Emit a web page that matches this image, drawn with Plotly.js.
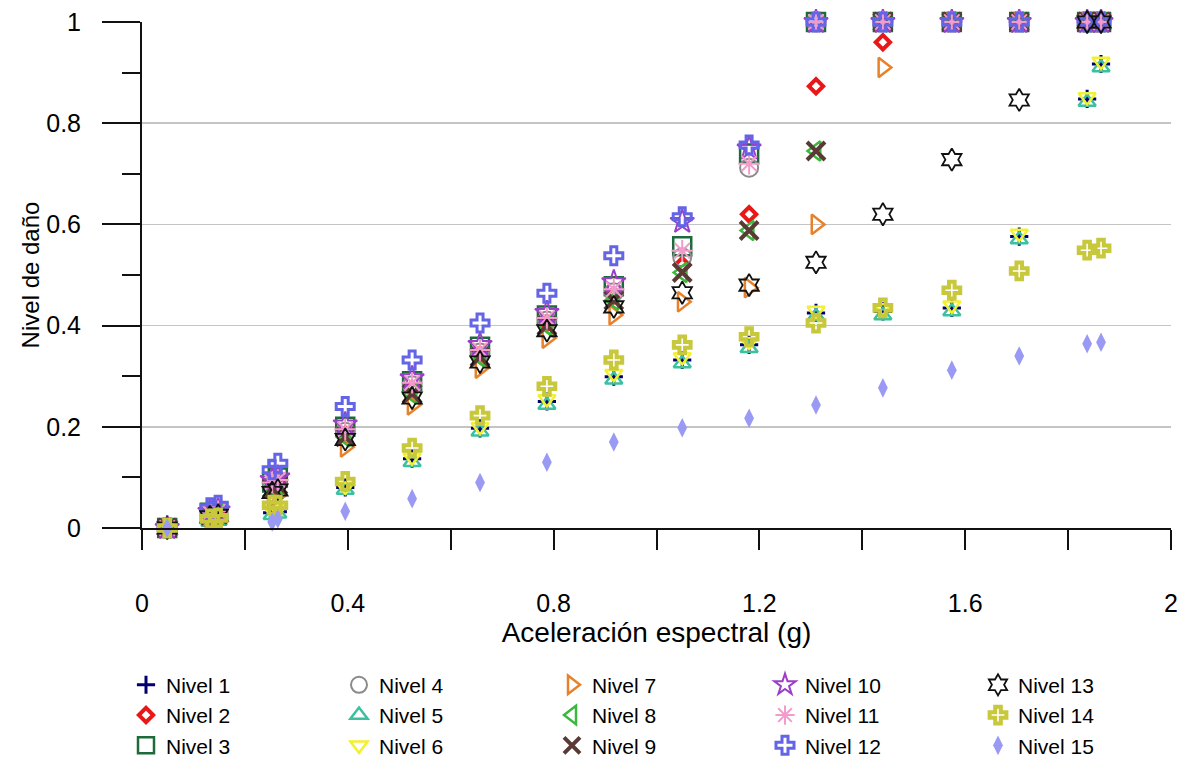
<!DOCTYPE html>
<html>
<head>
<meta charset="utf-8">
<script src="https://cdn.plot.ly/plotly-3.0.1.min.js"></script>
<style>html,body{margin:0;padding:0;background:#fff;}#chart{width:1191px;height:778px;}</style>
</head>
<body>
<div id="chart"></div>
<script>
// Aceleración espectral (g)
const accel = [0.049, 0.132, 0.148, 0.253, 0.264, 0.395, 0.525, 0.657, 0.787, 0.917, 1.05, 1.18, 1.31, 1.44, 1.574, 1.705, 1.837, 1.864];

// Nivel de daño per level
const nivel1  = [0, 0.015, 0.018, 0.030, 0.032, 0.080, 0.137, 0.197, 0.250, 0.299, 0.332, 0.362, 0.425, 0.428, 0.435, 0.576, 0.848, 0.917];
const nivel2  = [0, 0.027, 0.030, 0.080, 0.088, 0.185, 0.275, 0.342, 0.405, 0.460, 0.520, 0.620, 0.873, 0.960, 1, 1, 1, 1];
const nivel3  = [0, 0.030, 0.033, 0.090, 0.100, 0.200, 0.290, 0.358, 0.420, 0.478, 0.557, 0.740, 1, 1, 1, 1, 1, 1];
const nivel4  = [0, 0.028, 0.030, 0.085, 0.090, 0.190, 0.282, 0.347, 0.410, 0.466, 0.535, 0.712, 1, 1, 1, 1, 1, 1];
const nivel5  = [0, 0.012, 0.014, 0.025, 0.028, 0.075, 0.130, 0.190, 0.243, 0.293, 0.325, 0.355, 0.418, 0.420, 0.428, 0.570, 0.842, 0.910];
const nivel6  = [0, 0.015, 0.017, 0.035, 0.038, 0.082, 0.140, 0.200, 0.255, 0.305, 0.338, 0.368, 0.430, 0.435, 0.440, 0.582, 0.852, 0.922];
const nivel7  = [0, 0.020, 0.022, 0.060, 0.065, 0.160, 0.243, 0.316, 0.375, 0.421, 0.447, 0.475, 0.600, 0.910, 1, 1, 1, 1];
const nivel8  = [0, 0.025, 0.027, 0.078, 0.085, 0.180, 0.265, 0.338, 0.400, 0.450, 0.505, 0.588, 0.745, 1, 1, 1, 1, 1];
const nivel9  = [0, 0.025, 0.027, 0.078, 0.085, 0.180, 0.265, 0.338, 0.400, 0.450, 0.505, 0.588, 0.745, 1, 1, 1, 1, 1];
const nivel10 = [0, 0.032, 0.035, 0.095, 0.100, 0.205, 0.296, 0.362, 0.425, 0.486, 0.605, 0.750, 1, 1, 1, 1, 1, 1];
const nivel11 = [0, 0.030, 0.033, 0.090, 0.095, 0.195, 0.287, 0.352, 0.415, 0.472, 0.548, 0.720, 1, 1, 1, 1, 1, 1];
const nivel12 = [0, 0.040, 0.045, 0.115, 0.128, 0.240, 0.332, 0.405, 0.464, 0.538, 0.615, 0.757, 1, 1, 1, 1, 1, 1];
const nivel13 = [0, 0.022, 0.025, 0.070, 0.075, 0.175, 0.257, 0.328, 0.390, 0.437, 0.465, 0.480, 0.525, 0.620, 0.728, 0.846, 1, 1];
const nivel14 = [0, 0.018, 0.020, 0.045, 0.045, 0.092, 0.158, 0.222, 0.280, 0.332, 0.362, 0.378, 0.405, 0.435, 0.470, 0.508, 0.549, 0.553];
const nivel15 = [0, -0.003, -0.004, 0.012, 0.018, 0.033, 0.058, 0.090, 0.130, 0.170, 0.198, 0.217, 0.243, 0.277, 0.312, 0.340, 0.364, 0.367];

const names = ['Nivel 1','Nivel 2','Nivel 3','Nivel 4','Nivel 5','Nivel 6','Nivel 7','Nivel 8','Nivel 9','Nivel 10','Nivel 11','Nivel 12','Nivel 13','Nivel 14','Nivel 15'];
const series = [nivel1,nivel2,nivel3,nivel4,nivel5,nivel6,nivel7,nivel8,nivel9,nivel10,nivel11,nivel12,nivel13,nivel14,nivel15];

const xTickVals = [0, 0.2, 0.4, 0.6, 0.8, 1.0, 1.2, 1.4, 1.6, 1.8, 2.0];
const xTickText = ['0', '', '0.4', '', '0.8', '', '1.2', '', '1.6', '', '2'];
const yTickVals = [0, 0.2, 0.4, 0.6, 0.8, 1];
const yTickText = ['0', '0.2', '0.4', '0.6', '0.8', '1'];

const styles = [
  {symbol:'cross-thin-open', color:'#000070', size:13, lw:3},
  {symbol:'diamond-open', color:'#e81818', size:11, lw:4},
  {symbol:'square-open', color:'#1d6a3a', size:18, lw:2.5},
  {symbol:'circle-open', color:'#8a8a8a', size:18, lw:2},
  {symbol:'triangle-up-open', color:'#3cc0a0', size:15, lw:2.5},
  {symbol:'triangle-down-open', color:'#f2f030', size:15, lw:2.5},
  {symbol:'triangle-right-open', color:'#e8822a', size:17, lw:2.5},
  {symbol:'triangle-left-open', color:'#3cb83c', size:17, lw:2.5},
  {symbol:'x-thin-open', color:'#5a3a35', size:18, lw:4},
  {symbol:'star-open', color:'#9a40c8', size:18, lw:2},
  {symbol:'asterisk-open', color:'#f29ccb', size:18, lw:2},
  {symbol:'cross-open', color:'#6464e6', size:15, lw:3},
  {symbol:'hexagram-open', color:'#111111', size:17, lw:1.8},
  {symbol:'cross-open', color:'#c8c83c', size:14, lw:4},
  {symbol:'diamond-tall', color:'#9a9af5', size:14, lw:0}
];

const traces = [];
for (let k = 0; k < series.length; k++) {
  const st = styles[k];
  const col = Math.floor(k / 3), row = k % 3;
  traces.push({
    type: 'scatter', mode: 'markers', name: names[k],
    x: accel, y: series[k], cliponaxis: false,
    legendrank: row * 5 + col + 1,
    marker: {symbol: st.symbol, size: st.size, color: st.color,
             line: {color: st.color, width: st.lw}}
  });
}

const font = 'Liberation Sans, Arial, sans-serif';
const layout = {
  width: 1191, height: 778,
  margin: {l: 142, r: 20, t: 22, b: 250},
  paper_bgcolor: '#ffffff', plot_bgcolor: '#ffffff',
  font: {family: font, color: '#000', size: 22},
  showlegend: true,
  xaxis: {
    range: [0, 2], autorange: false,
    tickvals: xTickVals, ticktext: xTickText,
    ticks: 'outside', ticklen: 20, tickwidth: 2, tickcolor: '#111',
    ticklabelstandoff: 32,
    showgrid: false, zeroline: false,
    showline: true, linecolor: '#111', linewidth: 2,
    tickfont: {size: 25},
    title: {text: 'Aceleración espectral (g)', font: {size: 28}, standoff: 0}
  },
  yaxis: {
    range: [0, 1], autorange: false,
    tickvals: yTickVals, ticktext: yTickText,
    ticks: 'outside', ticklen: 38, tickwidth: 2, tickcolor: '#111',
    ticklabelstandoff: 16,
    minor: {dtick: 0.1, tick0: 0, ticks: 'outside', ticklen: 18, tickwidth: 2, tickcolor: '#111', showgrid: false},
    showgrid: true, gridcolor: '#c4c4c4', gridwidth: 1.5,
    zeroline: false,
    showline: true, linecolor: '#111', linewidth: 2,
    tickfont: {size: 25},
    title: {text: 'Nivel de daño', font: {size: 24}, standoff: 0}
  },
  legend: {
    orientation: 'h',
    x: -0.003, xanchor: 'left', y: -0.27, yanchor: 'top',
    entrywidth: 168, entrywidthmode: 'pixels',
    font: {size: 21}, itemsizing: 'trace',
    bgcolor: 'rgba(0,0,0,0)', traceorder: 'normal'
  }
};

Plotly.newPlot('chart', traces, layout, {displayModeBar: false, staticPlot: true});
</script>
</body>
</html>
